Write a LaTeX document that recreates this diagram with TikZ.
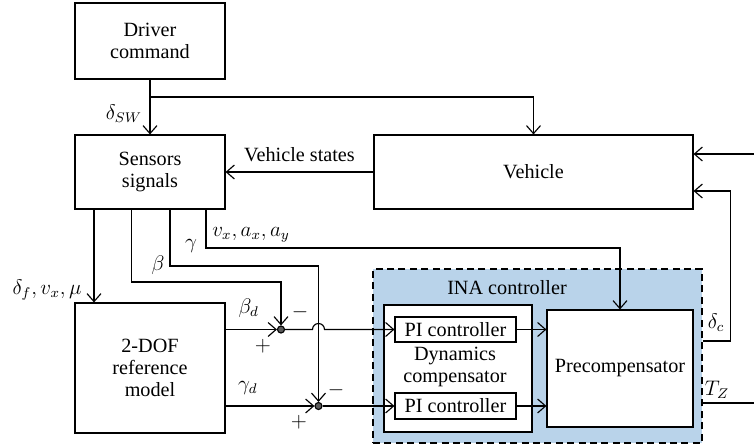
\documentclass[tikz,border=0pt]{standalone}
\usepackage{fontspec}
\setmainfont{Liberation Serif}
\usetikzlibrary{arrows.meta}

\definecolor{inablue}{RGB}{185,211,234}
\tikzset{
    block/.style={draw, fill=white, inner sep=0pt, align=center},
    sumdot/.style={circle, draw, fill=black!65, inner sep=0pt, minimum size=0.14cm},
    sig/.style={-{Straight Barb[length=1.6mm,width=2.8mm]}},
}

\begin{document}
\begin{tikzpicture}[x=0.02cm, y=-0.02cm, line width=0.65pt,
        font=\fontsize{11.5}{12.5}\selectfont]
        \useasboundingbox (0,0) rectangle (754,447);
        % left column blocks
        \node[block, minimum width=3cm, minimum height=1.52cm] (driver) at (150,41) {Driver\\command};
        \node[block, minimum width=3cm, minimum height=1.48cm] (sensors) at (150,172) {Sensors\\signals};
        \node[block, minimum width=3cm, minimum height=2.6cm] (refmodel) at (150,368) {2-DOF\\reference\\model};
        \node[block, minimum width=6.38cm, minimum height=1.48cm] (vehicle) at (533.5,172) {Vehicle};
        % INA controller
        \node[draw, dash pattern=on 4pt off 2.5pt, fill=inablue, minimum width=6.58cm, minimum height=3.48cm] (ina) at (537.5,356) {};
        \node (inatitle) at (507,288) {INA controller};
        \node[block, minimum width=2.96cm, minimum height=2.54cm] (dyncomp) at (458,368.5) {};
        \node[align=center] (dyntext) at (455,366.5) {Dynamics\\compensator};
        \node[block, minimum width=2.42cm, minimum height=0.5cm] (pi1) at (455.5,329.5) {PI controller};
        \node[block, minimum width=2.42cm, minimum height=0.52cm] (pi2) at (455.5,406) {PI controller};
        \node[block, minimum width=2.92cm, minimum height=2.34cm] (precomp) at (620,368.5) {Precompensator};
        % summing junctions
        \node[sumdot] (sum1) at (281,329.5) {};
        \node[sumdot] (sum2) at (318.5,406) {};
        % driver command to sensors and vehicle
        \coordinate (brk) at (150,97);
        \draw[sig] (driver.south) -- (sensors.north) node[pos=0.62, left=1pt] {$\delta_{SW}$};
        \draw[sig] (brk) -| (vehicle.north);
        \draw[sig] (vehicle.west) -- (sensors.east) node[midway, above=2pt] {Vehicle states};
        % inputs to vehicle
        \coordinate (tzin) at (754,154);
        \coordinate (dcturn) at (730.5,191);
        \draw[sig] (tzin) -- (tzin -| vehicle.east);
        \draw[sig] (ina.east |- 0,341) -| (dcturn) -- (dcturn -| vehicle.east);
        \node (dclabel) at (716,323) {$\delta_c$};
        \coordinate (tzout) at (754,403);
        \draw (ina.east |- tzout) -- (tzout);
        \node (tzlabel) at (717,390) {$T_Z$};
        % sensor signals
        \coordinate (s1) at (94,209);
        \coordinate (s2) at (131.5,209);
        \coordinate (s3) at (170,209);
        \coordinate (s4) at (206,209);
        \draw[sig] (s1) -- (s1 |- refmodel.north);
        \node (reflabel) at (47,290) {$\delta_f, v_x, \mu$};
        \draw[sig] (s2) |- (sum1 |- 0,282) -- (sum1.north);
        \node (betalabel) at (158,265) {$\beta$};
        \draw[sig] (s3) |- (sum2 |- 0,266) -- (sum2.north);
        \node (gammalabel) at (191,246) {$\gamma$};
        \draw[sig] (s4) |- (precomp.north |- 0,248) -- (precomp.north);
        \node (vxlabel) at (251,235) {$v_x, a_x, a_y$};
        % reference signals to junctions
        \draw[sig] (refmodel.east |- sum1) -- (sum1.west) node[pos=0.45, above=3pt] {$\beta_d$};
        \draw[sig] (refmodel.east |- sum2) -- (sum2.west) node[pos=0.25, above=3pt] {$\gamma_d$};
        \node (m1) at (300,312) {$-$};
        \node (p1) at (263,346) {$+$};
        \node (m2) at (336,390) {$-$};
        \node (p2) at (299,422) {$+$};
        % errors to PI controllers, with a hop over the gamma line
        \draw[sig] (sum1.east) -- (312.5,329.5) arc[start angle=180, end angle=0, radius=0.12cm] -- (pi1.west);
        \draw[sig] (sum2.east) -- (pi2.west);
        \draw[sig] (pi1.east) -- (pi1.east -| precomp.west);
        \draw[sig] (pi2.east) -- (pi2.east -| precomp.west);
\end{tikzpicture}
\end{document}
